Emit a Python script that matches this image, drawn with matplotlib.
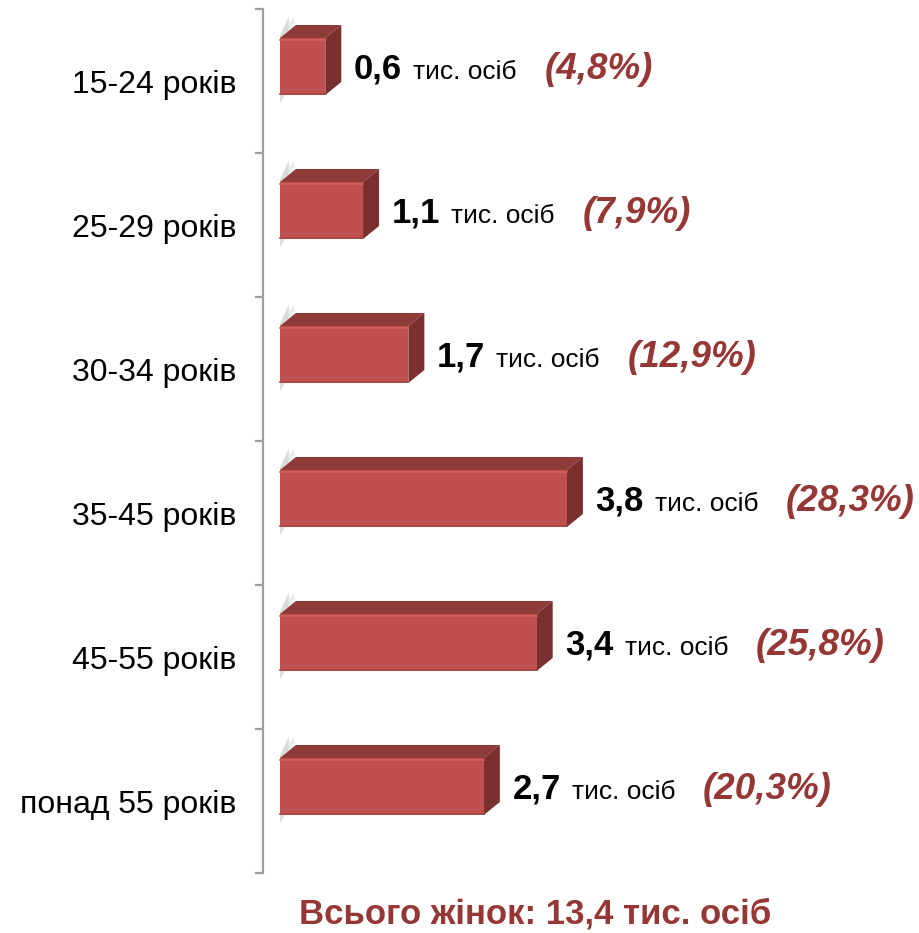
import matplotlib
matplotlib.use("Agg")
import matplotlib.pyplot as plt
from matplotlib.patches import Polygon, Rectangle

plt.rcParams['font.family'] = ['Liberation Sans', 'DejaVu Sans']

categories = ["15-24 років", "25-29 років", "30-34 років", "35-45 років", "45-55 років", "понад 55 років"]
values = [0.6, 1.1, 1.7, 3.8, 3.4, 2.7]
value_labels = ["0,6", "1,1", "1,7", "3,8", "3,4", "2,7"]
percent_labels = ["(4,8%)", "(7,9%)", "(12,9%)", "(28,3%)", "(25,8%)", "(20,3%)"]
unit_label = "тис. осіб"
total_label = "Всього жінок: 13,4 тис. осіб"

W, H = 920, 933
fig = plt.figure(figsize=(W / 100, H / 100), dpi=100)
ax_left, ax_right, ax_top, ax_bot = 263, 920, 9, 873
ax = fig.add_axes([ax_left / W, 1 - ax_bot / H, (ax_right - ax_left) / W, (ax_bot - ax_top) / H])

px_per_unit = 75.5
x0_px = 280
xmin = -(x0_px - ax_left) / px_per_unit
xmax = xmin + (ax_right - ax_left) / px_per_unit
n = len(categories)
ax.set_xlim(xmin, xmax)
ax.set_ylim(n, 0)

band_px = (ax_bot - ax_top) / n
dx = 16 / px_per_unit
dy = 13 / band_px
front_top_off = -43 / band_px
front_bot_off = 14 / band_px

c_front = '#C0504D'
c_top = '#8E3B39'
c_side = '#7A302E'
c_pct = '#953735'

for i, (v, vl, pl) in enumerate(zip(values, value_labels, percent_labels)):
    c = i + 0.5
    ft = c + front_top_off
    fb = c + front_bot_off
    # soft wall shadow behind bar's left end
    for k, (col, w) in enumerate([('#EDEDED', 0.9), ('#DCDCDC', 0.55)]):
        ax.add_patch(Polygon([(0, ft - dy * 0.2), (dx * w, ft - dy - 0.06), (dx * w, fb - dy + 0.01),
                              (0, fb + 0.055)], closed=True, facecolor=col, edgecolor='none', zorder=1))
    ax.add_patch(Polygon([(0, ft), (v, ft), (v + dx, ft - dy), (dx, ft - dy)], closed=True,
                         facecolor=c_top, edgecolor='none', zorder=2))
    ax.add_patch(Polygon([(v, ft), (v + dx, ft - dy), (v + dx, fb - dy), (v, fb)], closed=True,
                         facecolor=c_side, edgecolor='none', zorder=2))
    ax.add_patch(Rectangle((0, ft), v, fb - ft, facecolor=c_front, edgecolor='none', zorder=3))
    ax.plot([0, v], [ft + 0.012, ft + 0.012], color='#D0605C', lw=1.2, zorder=4)
    ax.plot([0, v], [fb - 0.006, fb - 0.006], color='#A84442', lw=1.2, zorder=4)

    yc = (ft + fb) / 2
    t1 = ax.annotate(vl, xy=(v + dx, yc), xycoords='data', xytext=(9, -9), textcoords='offset points',
                     ha='left', va='baseline', fontsize=25, fontweight='bold', color='black')
    t2 = ax.annotate(unit_label, xy=(1, yc), xycoords=(t1, 'data'), xytext=(8, -9), textcoords='offset points',
                     ha='left', va='baseline', fontsize=19, color='black')
    t3 = ax.annotate(pl, xy=(1, yc), xycoords=(t2, 'data'), xytext=(20, -9), textcoords='offset points',
                     ha='left', va='baseline', fontsize=26.5, fontweight='bold', fontstyle='italic', color=c_pct)

for s in ['top', 'right', 'bottom']:
    ax.spines[s].set_visible(False)
ax.spines['left'].set_color('#A0A0A0')
ax.spines['left'].set_linewidth(1.6)
ax.set_xticks([])
ax.set_yticks(range(n + 1))
ax.set_yticklabels([])
ax.tick_params(axis='y', which='major', length=6, width=1.6, color='#A0A0A0', direction='out')
ax.set_yticks([i + 0.5 for i in range(n)], minor=True)
ax.set_yticklabels(categories, minor=True, fontsize=23)
ax.tick_params(axis='y', which='minor', length=0, pad=19)
ax.patch.set_visible(False)

fig.text(535 / W, 1 - 914 / H, total_label, ha='center', va='center', fontsize=25,
         fontweight='bold', color=c_pct)

fig.savefig('out.png', dpi=100)
